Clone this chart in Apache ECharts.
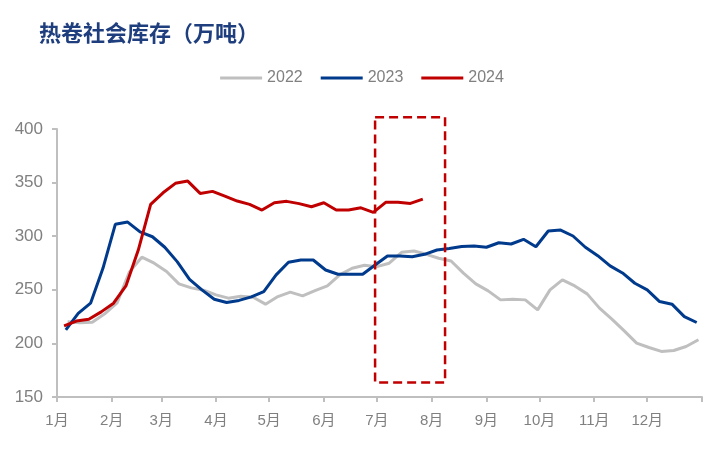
<!DOCTYPE html>
<html>
<head>
<meta charset="utf-8">
<script src="https://cdn.jsdelivr.net/npm/echarts@6/dist/echarts.min.js"></script>
<style>
html,body{margin:0;padding:0;background:#fff;}
#c{width:724px;height:449px;}
</style>
</head>
<body>
<div id="c"></div>
<script>
// Month boundaries as day offsets within a year, and their labels
const monthStarts = [0, 31, 59, 90, 120, 151, 181, 212, 243, 273, 304, 334, 365];
const monthLabels = ['1月','2月','3月','4月','5月','6月','7月','8月','9月','10月','11月','12月',''];

// Weekly observations; first observation day offset (from Jan 1) for each year
const start2022 = 6;   // 2022-01-07
const start2023 = 5;   // 2023-01-06
const start2024 = 4;   // 2024-01-05

const v2022 = [220.2, 219.2, 219.7, 227.6, 237.8, 266.7, 280.4, 274.8, 267.1, 255.5,
  251.8, 249.6, 245.3, 242.2, 243.9, 243.1, 236.6, 243.7, 247.8, 244.3,
  249.3, 253.6, 263.9, 270.1, 272.9, 271.6, 274.8, 285.0, 286.2, 283.1,
  279.4, 276.9, 265.5, 255.5, 249.0, 240.6, 241.2, 240.6, 231.3, 249.9,
  259.2, 253.6, 246.2, 232.9, 222.6, 211.7, 200.3, 196.2, 192.5, 193.4,
  197.1, 203.4];
const v2023 = [212.7, 228.0, 237.5, 270.0, 311.1, 313.2, 304.0, 299.5, 289.7, 276.3,
  259.7, 249.9, 241.2, 238.1, 240.1, 243.4, 248.3, 263.9, 275.7, 277.8,
  277.8, 268.5, 264.5, 264.5, 264.5, 273.2, 281.6, 281.6, 280.9, 283.1,
  287.1, 288.5, 290.4, 290.9, 289.7, 293.9, 292.7, 297.1, 290.2, 304.8,
  305.7, 300.2, 289.7, 281.8, 272.3, 265.7, 256.1, 249.9, 239.0, 236.6,
  225.0, 219.5];
const v2024 = [216.4, 220.8, 222.6, 229.4, 237.5, 253.6, 287.1, 329.7, 340.5, 349.3,
  351.4, 339.9, 341.8, 337.4, 332.8, 329.7, 324.4, 331.2, 332.5, 330.4,
  327.5, 331.2, 324.4, 324.4, 326.5, 322.3, 331.6, 331.6, 330.6, 334.6];

const seriesNames = ['2022', '2023', '2024'];
const seriesColors = ['#BFBFBF', '#003A8C', '#C00000'];

// Highlight box (data coordinates: day offset range, value range)
const boxDays = [180, 219.6];
const boxValues = [163.6, 410.9];

function toPoints(start, vals) {
  return vals.map((v, i) => [start + 7 * i, v]);
}

const chart = echarts.init(document.getElementById('c'), null, {renderer: 'canvas'});
const labelFont = "'Liberation Sans', Arial, 'Noto Sans CJK SC', sans-serif";

chart.setOption({
  animation: false,
  title: {
    text: '热卷社会库存（万吨）',
    left: 34,
    top: 17,
    textStyle: {fontSize: 22, fontWeight: 'bold', color: '#1F3E7E', fontFamily: "'Noto Sans CJK SC', sans-serif"}
  },
  legend: {
    top: 65,
    left: 'center',
    icon: 'rect',
    itemWidth: 42,
    itemHeight: 3,
    itemGap: 18,
    textStyle: {fontSize: 16, color: '#808080', fontFamily: labelFont},
    data: seriesNames
  },
  grid: {left: 57, right: 22, top: 129, bottom: 52, containLabel: false},
  xAxis: {
    type: 'value',
    min: 0,
    max: 365,
    axisLine: {show: true, lineStyle: {color: '#BFBFBF', width: 2}},
    axisTick: {show: true, length: 5, customValues: monthStarts, lineStyle: {color: '#BFBFBF', width: 2}},
    axisLabel: {
      customValues: monthStarts.slice(0, 12),
      formatter: function (v) { const i = monthStarts.indexOf(v); return i >= 0 ? monthLabels[i] : ''; },
      color: '#808080', fontSize: 15, margin: 16, fontFamily: labelFont
    },
    splitLine: {show: false}
  },
  yAxis: {
    type: 'value',
    min: 150,
    max: 400,
    interval: 50,
    axisLine: {show: true, lineStyle: {color: '#BFBFBF', width: 2}},
    axisTick: {show: true, length: 5, lineStyle: {color: '#BFBFBF', width: 2}},
    axisLabel: {color: '#808080', fontSize: 17, margin: 14, fontFamily: labelFont},
    splitLine: {show: false}
  },
  series: [
    {name: seriesNames[0], type: 'line', data: toPoints(start2022, v2022), showSymbol: false, symbol: 'none',
     color: seriesColors[0], lineStyle: {width: 3, color: seriesColors[0]}, z: 2},
    {name: seriesNames[1], type: 'line', data: toPoints(start2023, v2023), showSymbol: false, symbol: 'none',
     color: seriesColors[1], lineStyle: {width: 3, color: seriesColors[1]}, z: 3},
    {name: seriesNames[2], type: 'line', data: toPoints(start2024, v2024), showSymbol: false, symbol: 'none',
     color: seriesColors[2], lineStyle: {width: 3, color: seriesColors[2]}, z: 4}
  ]
});

const p1 = chart.convertToPixel({gridIndex: 0}, [boxDays[0], boxValues[1]]);
const p2 = chart.convertToPixel({gridIndex: 0}, [boxDays[1], boxValues[0]]);
chart.setOption({
  graphic: [{
    type: 'rect',
    silent: true,
    z: 100,
    shape: {x: p1[0], y: p1[1], width: p2[0] - p1[0], height: p2[1] - p1[1]},
    style: {fill: 'none', stroke: '#C00000', lineWidth: 2.5, lineDash: [9, 5]}
  }]
});
</script>
</body>
</html>
